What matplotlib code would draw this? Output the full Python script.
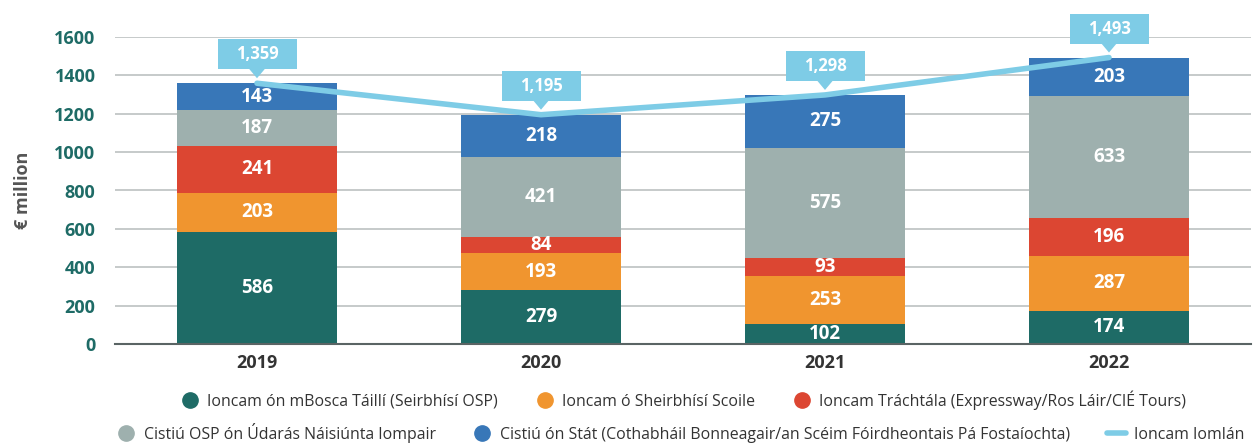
import matplotlib
matplotlib.use("Agg")
import matplotlib.pyplot as plt
from matplotlib.lines import Line2D
from matplotlib.patches import Polygon, Rectangle
import numpy as np

plt.rcParams['font.family'] = ['Open Sans', 'DejaVu Sans']

years = ["2019", "2020", "2021", "2022"]
fare_box = [586, 279, 102, 174]
school = [203, 193, 253, 287]
commercial = [241, 84, 93, 196]
nta_osp = [187, 421, 575, 633]
state = [143, 218, 275, 203]
total = [1359, 1195, 1298, 1493]

series = [
    ("Ioncam ón mBosca Táillí (Seirbhísí OSP)", fare_box, "#1e6b66"),
    ("Ioncam ó Sheirbhísí Scoile", school, "#f0952f"),
    ("Ioncam Tráchtála (Expressway/Ros Láir/CIÉ Tours)", commercial, "#dc4632"),
    ("Cistiú OSP ón Údarás Náisiúnta Iompair", nta_osp, "#9eb0ae"),
    ("Cistiú ón Stát (Cothabháil Bonneagair/an Scéim Fóirdheontais Pá Fostaíochta)", state, "#3877b8"),
]
line_label = "Ioncam Iomlán"
line_color = "#7ecce6"

fig = plt.figure(figsize=(12.58, 4.44), dpi=100)
ax = fig.add_axes([115/1258, 100/444, 1136/1258, 307/444])

x = np.arange(len(years))
bottom = np.zeros(len(years))
for name, vals, col in series:
    vals = np.array(vals, dtype=float)
    ax.bar(x, vals, 0.563, bottom=bottom, color=col, zorder=2)
    for xi, b, v in zip(x, bottom, vals):
        ax.text(xi, b + v / 2, f"{int(v)}", ha="center", va="center",
                color="white", fontsize=13.5, fontweight="bold", zorder=3)
    bottom += vals

ax.plot(x, total, color=line_color, lw=4, zorder=4, solid_capstyle="round")

# callout boxes (sizes in pixels converted to data units)
ypx = 307 / 1600   # px per y unit
xpx = 284.0        # px per x unit
bw, bh, gap, tip = 79 / xpx, 30 / ypx, 14 / ypx, 5 / ypx
for xi, t in zip(x, total):
    ax.add_patch(Rectangle((xi - bw / 2, t + gap), bw, bh, fc=line_color, ec="none",
                           zorder=5, clip_on=False))
    dx = 8 / xpx
    ax.add_patch(Polygon([[xi - dx, t + gap + 0.5 / ypx], [xi + dx, t + gap + 0.5 / ypx],
                          [xi, t + tip]], closed=True, fc=line_color, ec="none",
                         zorder=5, clip_on=False))
    ax.text(xi, t + gap + bh / 2, f"{t:,}", ha="center", va="center", color="white",
            fontsize=12, fontweight="bold", zorder=6, clip_on=False)

ax.set_xlim(-0.5, 3.5)
ax.set_ylim(0, 1600)
ax.set_yticks(range(0, 1601, 200))
ax.set_xticks(x)
ax.set_xticklabels(years)
ax.yaxis.grid(True, color="#c2c6c6", lw=1.3, zorder=0)
ax.set_axisbelow(True)
for s in ["top", "right", "left"]:
    ax.spines[s].set_visible(False)
ax.spines["bottom"].set_color("#5a6464")
ax.spines["bottom"].set_linewidth(1.5)
ax.tick_params(axis="both", length=0)
ax.tick_params(axis="y", pad=14, labelsize=13, labelcolor="#1e6b66")
ax.tick_params(axis="x", pad=7, labelsize=13, labelcolor="#333333")
for lab in ax.get_yticklabels() + ax.get_xticklabels():
    lab.set_fontweight("bold")
ax.set_ylabel("€ million", fontsize=13, fontweight="bold", color="#555555", labelpad=16)

def circ(col):
    return Line2D([], [], marker="o", ls="none", markersize=11, markerfacecolor=col,
                  markeredgecolor=col)

h1 = [circ(c) for _, _, c in series[:3]]
l1 = [n for n, _, _ in series[:3]]
h2 = [circ(c) for _, _, c in series[3:]] + [Line2D([], [], color=line_color, lw=4, solid_capstyle="round")]
l2 = [n for n, _, _ in series[3:]] + [line_label]

leg1 = fig.legend(h1, l1, loc="center", bbox_to_anchor=(0.543, (444-400)/444),
                  ncol=3, frameon=False, fontsize=11.4, handlelength=1.2, handletextpad=0.5,
                  columnspacing=2.35, labelcolor="#333333")
leg2 = fig.legend(h2, l2, loc="center", bbox_to_anchor=(0.541, (444-433)/444),
                  ncol=3, frameon=False, fontsize=11.4, handlelength=1.2, handletextpad=0.5,
                  columnspacing=2.35, labelcolor="#333333")

fig.savefig("out.png", dpi=100)
